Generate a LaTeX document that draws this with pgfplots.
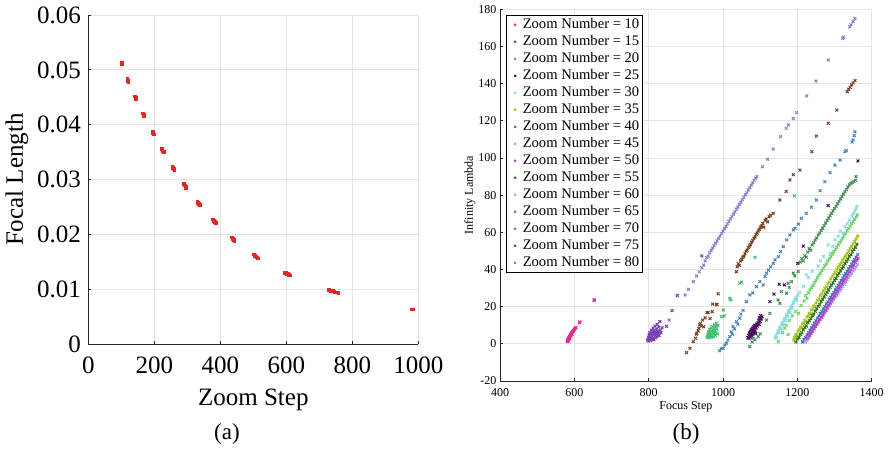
\documentclass[border=0pt]{standalone}
\usepackage{fontspec}
\setmainfont{Liberation Serif}
\usepackage{pgfplots}
\pgfplotsset{compat=1.18}

\definecolor{fl}{RGB}{226,40,32}
\definecolor{z10}{RGB}{228,41,138}
\definecolor{z15}{RGB}{117,62,177}
\definecolor{z20}{RGB}{62,190,112}
\definecolor{z25}{RGB}{74,12,96}
\definecolor{z30}{RGB}{134,220,226}
\definecolor{z35}{RGB}{160,196,20}
\definecolor{z40}{RGB}{64,110,196}
\definecolor{z45}{RGB}{170,158,232}
\definecolor{z50}{RGB}{182,62,196}
\definecolor{z55}{RGB}{48,112,24}
\definecolor{z60}{RGB}{104,210,108}
\definecolor{z65}{RGB}{72,140,88}
\definecolor{z70}{RGB}{72,130,182}
\definecolor{z75}{RGB}{120,66,38}
\definecolor{z80}{RGB}{140,124,204}

\newcommand{\lf}{\fontsize{14.6}{17}\selectfont}

\pgfplotsset{
  matstyle/.style={
    scale only axis,
    axis x line*=bottom, axis y line*=left,
    axis line style={-, black!85, line width=0.8pt},
    tick align=inside, major tick length=3pt,
    tick style={black!85, line width=0.8pt},
    grid=major, grid style={black!10, line width=0.8pt},
    scaled ticks=false,
    /pgf/number format/assume math mode=true,
  },
}

\begin{document}
\begin{tikzpicture}
\path[use as bounding box] (0,0) rectangle (889pt,451pt);

% (a) focal length against zoom step
\begin{axis}[matstyle,
  at={(88.3pt,106.7pt)}, anchor=south west,
  width=330pt, height=329.3pt,
  xmin=0, xmax=1000, ymin=0, ymax=0.06,
  xtick={0,200,400,600,800,1000},
  xticklabels={0,200,400,600,800,1000},
  ytick={0,0.01,0.02,0.03,0.04,0.05,0.06},
  yticklabels={0,0.01,0.02,0.03,0.04,0.05,0.06},
  tick label style={font=\fontsize{25}{30}\selectfont},
  xticklabel style={yshift=-9pt},
  yticklabel style={xshift=-4pt},
  label style={font=\fontsize{25}{30}\selectfont},
  xlabel={Zoom Step}, ylabel={Focal Length},
  xlabel style={at={(axis description cs:0.5,-0.169)}, anchor=center},
  ylabel style={at={(axis description cs:-0.216,0.5)}, anchor=center},
]
\addplot[only marks, mark=square*, mark size=1.4pt, color=fl]
  coordinates {
  (100,0.0513) (101,0.0512)
  (118,0.0484) (120,0.0481) (121,0.0479)
  (141,0.0452) (143,0.0450) (144,0.0448)
  (166,0.0421) (168,0.0418) (169,0.0416)
  (194,0.0388) (196,0.0385) (197,0.0383)
  (222,0.0356) (224,0.0354) (226,0.0352) (228,0.0351)
  (254,0.0324) (256,0.0322) (258,0.0320) (260,0.0318)
  (290,0.0292) (292,0.0290) (294,0.0288) (296,0.0286)
  (330,0.0260) (332,0.0258) (334,0.0256) (337,0.0254)
  (377,0.0228) (379,0.0226) (381,0.0225) (383,0.0223) (385,0.0222)
  (434,0.0195) (436,0.0193) (438,0.0192) (440,0.0191) (442,0.0189)
  (500,0.0164) (503,0.0162) (506,0.0161) (509,0.0160) (512,0.0158) (514,0.0157)
  (596,0.0131) (599,0.0130) (602,0.0129) (605,0.0128) (608,0.0127) (611,0.0126)
  (729,0.0099) (733,0.0098) (737,0.0098) (741,0.0097) (745,0.0096)
  (749,0.0095) (753,0.0095) (757,0.0094)
  (980,0.0064) (982,0.0064)
  };
\end{axis}

% (b) infinity lambda against focus step
\begin{axis}[matstyle,
  at={(500pt,70pt)}, anchor=south west,
  width=371.7pt, height=371.7pt,
  xmin=400, xmax=1400, ymin=-20, ymax=180,
  xtick={400,600,800,1000,1200,1400},
  xticklabels={400,600,800,1000,1200,1400},
  ytick={-20,0,20,40,60,80,100,120,140,160,180},
  yticklabels={-20,0,20,40,60,80,100,120,140,160,180},
  tick label style={font=\fontsize{12}{14}\selectfont},
  xticklabel style={yshift=-4pt},
  label style={font=\fontsize{12}{14}\selectfont},
  xlabel={Focus Step}, ylabel={Infinity Lambda},
  xlabel style={at={(axis description cs:0.5,-0.07)}, anchor=center},
  ylabel style={at={(axis description cs:-0.081,0.5)}, anchor=center},
  legend style={at={(axis description cs:0.016,0.985)}, anchor=north west,
    draw=black, line width=0.8pt, fill=white, cells={anchor=west},
    nodes={inner sep=0.6pt, text height=12pt, text depth=3.8pt},
    row sep=0pt, inner xsep=3pt, inner ysep=1pt},
  legend image code/.code={
    \path (0pt,0pt) (12pt,0pt);
    \draw[#1, mark size=1.3pt] plot[only marks] coordinates {(5.4pt,0pt)};},
  every axis plot/.append style={only marks, mark=x, mark size=2pt,
    mark options={line width=1pt}},
]
\addplot[color=z10] coordinates {
  (581,1.2) (582,1.8) (583,2.4) (584,1.6) (584,3.0) (585,2.2) (586,3.4)
  (587,2.8) (587,4.0) (588,3.6) (589,4.4) (590,4.9) (591,4.2) (592,5.4)
  (593,5.9) (594,5.2) (595,6.4) (596,6.9) (598,7.2) (600,7.8) (602,8.3)
  (604,8.8) (614,11.3) (615,11.8) (653,23.3) (654,23.8)};
\addlegendentry{\lf Zoom Number = 10}
\addplot[color=z15] coordinates {
  (797,2.0) (799,3.5) (800,1.5) (801,4.8) (802,2.6) (803,6.0) (804,3.4)
  (805,1.8) (806,5.2) (807,7.4) (808,2.5) (809,4.2) (810,6.6) (811,3.0)
  (812,8.5) (813,5.4) (814,2.2) (815,7.0) (816,4.0) (817,9.6) (818,3.2)
  (819,6.2) (820,5.0) (821,8.0) (822,3.8) (823,10.5) (824,6.8) (826,5.6)
  (827,9.0) (828,4.4) (830,12.0) (831,7.2) (833,6.0) (836,8.6) (848,9.4)
  (863,17.9) (877,26.0) (943,47.3)};
\addlegendentry{\lf Zoom Number = 15}
\addplot[color=z20] coordinates {
  (957,3.5) (959,5.0) (960,4.0) (961,6.5) (962,3.2) (963,5.6) (964,7.8)
  (965,4.4) (966,6.0) (967,3.6) (968,8.6) (969,5.2) (970,7.0) (971,4.2)
  (972,9.4) (973,6.4) (974,3.8) (975,8.0) (976,5.6) (977,10.2) (978,7.2)
  (979,4.6) (980,9.0) (981,6.2) (982,11.0) (983,8.0) (985,5.4) (986,9.8)
  (996,14.6) (1001,18.2) (1003,15.0) (1018,24.5) (1021,23.6) (1045,32.6)
  (1050,33.2) (1086,46.6) (1192,79.6)};
\addlegendentry{\lf Zoom Number = 20}
\addplot[color=z25] coordinates {
  (1067,3.2) (1069,4.6) (1070,3.0) (1071,5.8) (1072,4.0) (1073,6.8) (1074,3.6)
  (1075,5.2) (1076,7.6) (1077,4.4) (1078,6.2) (1079,8.4) (1080,5.0) (1081,7.2)
  (1082,9.2) (1083,6.0) (1084,8.0) (1085,10.0) (1086,7.0) (1087,9.0) (1088,5.6)
  (1089,8.6) (1090,10.6) (1092,9.6) (1094,11.2) (1096,12.6) (1097,10.4)
  (1098,14.0) (1100,12.0) (1101,15.2) (1103,13.4) (1105,14.6) (1126,22.7)
  (1137,26.8) (1151,32.0) (1165,31.7) (1201,43.3) (1216,52.6) (1283,74.4)
  (1363,98.4)};
\addlegendentry{\lf Zoom Number = 25}
\addplot[color=z30] coordinates {
  (1140,3.0) (1142,4.6) (1144,3.6) (1146,5.8) (1148,7.0) (1150,6.0) (1152,8.4)
  (1154,9.2) (1156,8.0) (1158,10.6) (1160,11.4) (1162,10.2) (1164,12.8)
  (1166,13.6) (1168,12.6) (1170,15.0) (1172,15.8) (1174,14.8) (1176,17.2)
  (1178,18.0) (1180,17.0) (1182,19.4) (1184,20.2) (1186,19.2) (1188,21.6)
  (1190,22.4) (1193,23.6) (1196,24.8) (1198,23.6) (1201,26.2) (1206,27.6)
  (1216,31.0) (1224,37.1) (1230,35.6) (1240,39.0) (1256,41.9) (1262,44.6)
  (1270,47.0) (1283,53.2) (1288,48.7) (1295,52.4) (1301,56.0) (1310,58.0)
  (1316,60.6) (1323,59.5) (1328,63.0) (1334,64.8) (1340,66.6) (1346,68.6)
  (1350,70.0) (1354,71.4) (1358,72.6) (1360,74.0)};
\addlegendentry{\lf Zoom Number = 30}
\addplot[color=z35] coordinates {
  (1190,2.0) (1193,3.5) (1196,5.0) (1199,4.4) (1202,6.8) (1205,7.4) (1208,9.0)
  (1211,8.6) (1214,10.6) (1217,11.2) (1220,12.6) (1223,12.0) (1226,14.4)
  (1229,15.0) (1232,16.4) (1235,16.0) (1238,18.2) (1241,18.8) (1244,20.4)
  (1247,20.0) (1250,22.0) (1254,23.4) (1258,24.2) (1262,26.0) (1266,27.0)
  (1270,28.4) (1274,29.8) (1278,30.6) (1282,32.4) (1286,33.2) (1290,35.0)
  (1294,36.0) (1298,37.4) (1302,38.4) (1306,40.0) (1310,41.0) (1314,42.6)
  (1318,43.4) (1322,45.0) (1326,46.2) (1330,47.4) (1334,48.6) (1338,50.0)
  (1342,51.2) (1346,52.6) (1350,53.8) (1354,55.2) (1358,56.4) (1362,58.0)};
\addlegendentry{\lf Zoom Number = 35}
\addplot[color=z40] coordinates {
  (1214,1.0) (1218,2.4) (1222,3.4) (1226,4.8) (1230,6.0) (1234,7.4) (1238,8.6)
  (1242,9.8) (1246,11.2) (1250,12.4) (1254,13.8) (1258,15.0) (1262,16.4)
  (1266,17.4) (1270,18.8) (1274,20.0) (1278,21.4) (1282,22.6) (1286,24.0)
  (1290,25.0) (1294,26.4) (1298,27.6) (1302,29.0) (1306,30.2) (1310,31.4)
  (1314,32.8) (1318,34.0) (1322,35.2) (1326,36.6) (1330,37.8) (1334,39.0)
  (1338,40.4) (1342,41.6) (1346,42.8) (1350,44.2) (1354,45.4) (1358,46.6)
  (1362,48.0)};
\addlegendentry{\lf Zoom Number = 40}
\addplot[color=z45] coordinates {
  (1222,1.0) (1226,2.0) (1230,3.4) (1234,4.4) (1238,5.8) (1242,7.0) (1246,8.0)
  (1250,9.4) (1254,10.6) (1258,11.8) (1262,13.0) (1266,14.2) (1270,15.4)
  (1274,16.6) (1278,17.8) (1282,19.0) (1286,20.2) (1290,21.4) (1294,22.6)
  (1298,23.8) (1302,25.0) (1306,26.0) (1310,27.4) (1314,28.6) (1318,29.6)
  (1322,31.0) (1326,32.0) (1330,33.2) (1334,34.6) (1338,35.6) (1342,36.8)
  (1346,38.0) (1350,39.2) (1354,40.4) (1358,41.4) (1362,42.6)};
\addlegendentry{\lf Zoom Number = 45}
\addplot[color=z50] coordinates {
  (1228,3.0) (1232,4.2) (1236,5.6) (1240,6.8) (1244,8.2) (1248,9.4) (1252,10.8)
  (1256,11.8) (1260,13.2) (1264,14.4) (1268,15.6) (1272,17.0) (1276,18.2)
  (1280,19.6) (1284,20.8) (1288,22.0) (1292,23.4) (1296,24.6) (1300,25.8)
  (1304,27.2) (1308,28.4) (1312,29.8) (1316,31.0) (1320,32.2) (1324,33.6)
  (1328,34.8) (1332,36.0) (1336,37.4) (1340,38.6) (1344,39.8) (1348,41.2)
  (1352,42.4) (1356,43.8) (1360,45.0) (1363,46.0)};
\addlegendentry{\lf Zoom Number = 50}
\addplot[color=z55] coordinates {
  (1196,1.0) (1200,2.6) (1204,3.4) (1208,5.0) (1212,6.0) (1216,7.6) (1220,8.8)
  (1224,9.6) (1228,11.4) (1232,12.4) (1236,13.6) (1240,15.2) (1244,16.0)
  (1248,17.6) (1252,18.8) (1256,20.2) (1260,21.2) (1264,22.8) (1268,24.0)
  (1272,25.2) (1276,26.6) (1280,27.8) (1284,29.0) (1288,30.4) (1292,31.6)
  (1296,32.8) (1300,34.2) (1304,35.2) (1308,36.8) (1312,38.0) (1316,39.2)
  (1320,40.6) (1324,41.6) (1328,43.2) (1332,44.4) (1336,45.6) (1340,47.0)
  (1344,48.0) (1348,49.6) (1352,50.8) (1356,52.0) (1360,53.6)};
\addlegendentry{\lf Zoom Number = 55}
\addplot[color=z60] coordinates {
  (1149,1.2) (1160,6.0) (1166,8.4) (1170,10.0) (1175,5.0) (1178,12.6)
  (1186,15.0) (1195,17.4) (1203,16.4) (1210,20.6) (1218,23.0) (1222,26.0)
  (1226,24.5) (1230,27.4) (1234,29.0) (1238,30.2) (1242,31.4) (1246,33.0)
  (1250,34.0) (1254,35.6) (1258,36.8) (1262,38.0) (1266,39.4) (1270,40.6)
  (1274,42.0) (1278,43.0) (1282,44.6) (1286,45.6) (1290,47.0) (1294,48.2)
  (1298,49.6) (1302,50.6) (1306,52.0) (1310,53.2) (1314,54.6) (1318,55.6)
  (1322,57.0) (1326,58.4) (1330,59.4) (1334,60.8) (1338,62.0) (1342,63.2)
  (1346,64.6) (1350,65.6) (1354,67.0) (1358,68.2) (1361,69.4)};
\addlegendentry{\lf Zoom Number = 60}
\addplot[color=z65] coordinates {
  (1072,-1.5) (1078,1.0) (1081,3.0) (1086,2.2) (1095,3.9) (1100,5.4)
  (1117,12.8) (1126,16.4) (1148,23.6) (1153,21.8) (1157,28.1) (1171,27.2)
  (1175,32.6) (1178,30.4) (1184,33.5) (1189,38.0) (1193,36.6) (1202,38.9)
  (1208,44.0) (1212,45.8) (1216,44.6) (1220,47.4) (1224,46.6) (1228,49.4)
  (1232,51.2) (1236,50.4) (1240,53.2) (1244,54.4) (1248,55.9) (1252,57.0)
  (1256,58.6) (1260,59.6) (1264,61.0) (1268,62.2) (1272,63.6) (1276,65.0)
  (1280,66.4) (1284,67.6) (1288,69.0) (1292,70.2) (1296,71.6) (1300,72.8)
  (1304,74.0) (1308,75.4) (1312,76.6) (1316,78.0) (1320,79.2) (1324,80.6)
  (1328,81.8) (1332,83.0) (1336,84.4) (1340,85.6) (1344,86.4) (1348,86.8)
  (1352,87.4) (1356,88.0) (1358,90.0)};
\addlegendentry{\lf Zoom Number = 65}
\addplot[color=z70] coordinates {
  (991,-3.7) (995,-2.6) (1000,-2.4) (1005,-0.6) (1009,0.3) (1013,2.0)
  (1018,3.9) (1022,6.5) (1025,5.2) (1027,9.2) (1031,8.0) (1036,11.9)
  (1040,10.6) (1045,13.8) (1048,16.0) (1054,18.0) (1063,22.7) (1072,26.3)
  (1080,27.4) (1090,30.8) (1099,33.5) (1108,31.7) (1113,36.2) (1117,38.0)
  (1122,39.7) (1128,41.4) (1135,43.3) (1140,45.2) (1149,46.9) (1155,49.6)
  (1162,52.3) (1171,55.9) (1180,58.6) (1189,61.3) (1194,62.2) (1203,64.4)
  (1211,67.6) (1224,70.2) (1238,73.5) (1251,77.4) (1261,82.4) (1274,87.3)
  (1288,92.1) (1301,96.2) (1315,98.9) (1328,103.4) (1332,104.0) (1347,108.6)
  (1350,109.7) (1353,112.0) (1355,114.1)};
\addlegendentry{\lf Zoom Number = 70}
\addplot[color=z75] coordinates {
  (902,-4.7) (911,-2.4) (920,1.2) (926,3.0) (928,5.2) (930,5.7) (933,7.0)
  (935,8.4) (937,10.2) (939,11.0) (942,9.6) (945,12.8) (948,9.2) (952,14.0)
  (957,16.8) (960,16.8) (965,13.6) (971,17.3) (972,21.4) (982,21.3)
  (984,21.0) (987,26.9)
  (1036,38.8) (1038,41.5) (1041,43.0) (1044,42.2) (1047,44.6) (1050,45.4)
  (1053,46.6) (1056,47.0) (1059,48.4) (1062,49.8) (1065,50.4) (1068,51.8)
  (1071,52.6) (1074,53.4) (1077,54.8) (1080,55.6) (1083,56.8) (1086,57.4)
  (1089,58.8) (1092,59.6) (1095,60.8) (1098,61.6) (1101,62.8) (1104,63.4)
  (1107,64.8) (1110,62.8) (1113,66.4) (1116,67.2) (1120,65.6) (1124,68.4)
  (1128,69.2) (1135,70.2) (1153,77.4) (1170,82.0) (1180,88.2) (1189,91.0)
  (1207,93.5) (1239,103.4) (1251,111.8) (1283,118.7) (1306,125.8)
  (1334,135.7) (1338,137.0) (1342,138.0) (1346,139.4) (1350,140.4)
  (1355,141.6)};
\addlegendentry{\lf Zoom Number = 75}
\addplot[color=z80] coordinates {
  (855,12.8) (898,26.3) (907,29.3) (920,33.5) (929,36.5) (936,38.8) (943,41.0)
  (948,42.4) (952,44.6) (956,46.4) (960,47.2) (964,49.0) (968,50.2) (972,51.6)
  (976,52.8) (980,54.2) (984,55.4) (988,56.8) (992,58.0) (996,59.4)
  (1000,60.6) (1004,62.0) (1008,63.2) (1012,64.6) (1016,65.8) (1020,67.2)
  (1024,68.4) (1028,69.8) (1032,71.0) (1036,72.4) (1040,73.6) (1044,75.0)
  (1048,76.2) (1052,77.6) (1056,78.8) (1060,80.2) (1064,81.4) (1068,82.8)
  (1072,84.0) (1076,85.4) (1080,86.6) (1084,88.0) (1088,89.2) (1091,90.0)
  (1106,95.3) (1120,99.3) (1135,104.8) (1155,111.5) (1170,116.0) (1176,117.8)
  (1189,121.3) (1198,124.4) (1225,133.4) (1250,141.4) (1283,152.7)
  (1322,164.4) (1324,165.0) (1341,170.6) (1344,171.6) (1350,173.4)
  (1355,175.0)};
\addlegendentry{\lf Zoom Number = 80}
\end{axis}

\node[font=\fontsize{23}{26}\selectfont] at (227pt,17pt) {(a)};
\node[font=\fontsize{23}{26}\selectfont] at (686pt,17pt) {(b)};
\end{tikzpicture}
\end{document}
